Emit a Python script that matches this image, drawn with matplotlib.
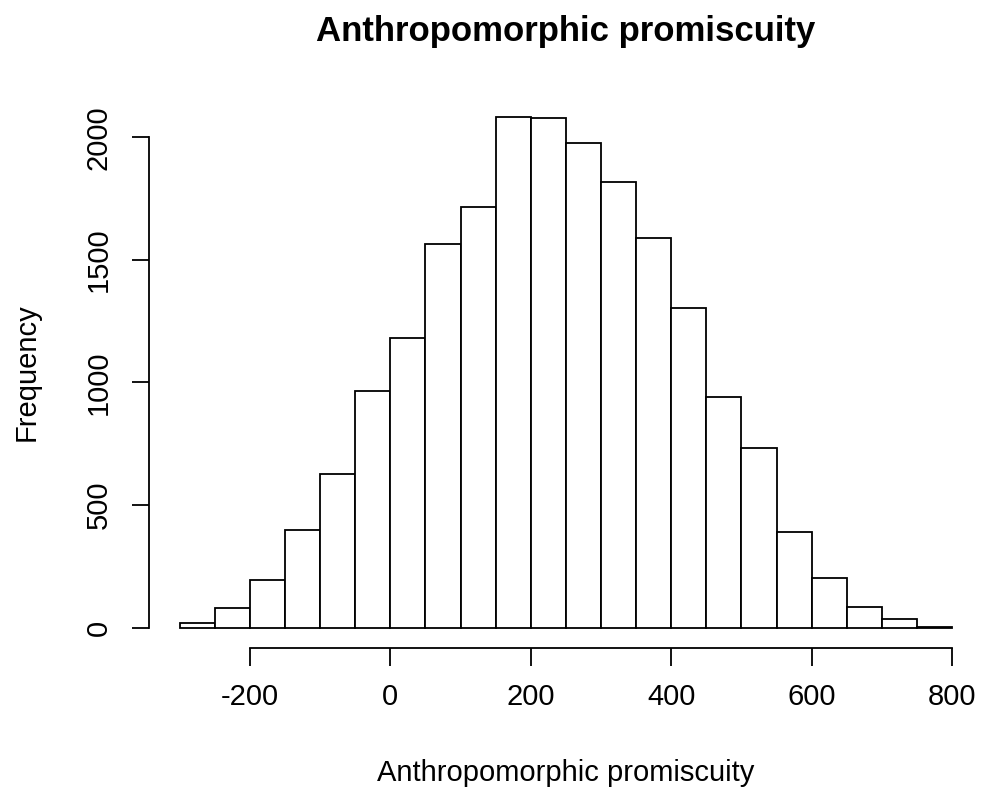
import numpy as np
import matplotlib
matplotlib.use("Agg")
import matplotlib.pyplot as plt

plt.rcParams["font.family"] = ["Liberation Sans", "DejaVu Sans"]
plt.rcParams["axes.unicode_minus"] = False

#---DATA---
bin_edges = np.arange(-300, 801, 50)
counts = [20, 81, 196, 399, 627, 965, 1181, 1564, 1715, 2081, 2077,
          1976, 1817, 1589, 1303, 941, 733, 391, 204, 86, 37, 3]
x_ticks = [-200, 0, 200, 400, 600, 800]
y_ticks = [0, 500, 1000, 1500, 2000]

#---PLOT---
fig = plt.figure(figsize=(9.92, 7.88), dpi=100)
ax = fig.add_axes([0.150, 0.1777, 0.841, 0.6992])

ax.bar(bin_edges[:-1], counts, width=50, align="edge",
       facecolor="white", edgecolor="black", linewidth=1.3)

ax.set_xlim(-344, 844)
ax.set_ylim(-83, 2164)

for side in ["top", "right"]:
    ax.spines[side].set_visible(False)
ax.spines["left"].set_bounds(0, 2000)
ax.spines["bottom"].set_bounds(-200, 800)
ax.spines["left"].set_linewidth(1.3)
ax.spines["bottom"].set_linewidth(1.3)

ax.set_xticks(x_ticks)
ax.set_yticks(y_ticks)
ax.tick_params(axis="x", length=13, width=1.3, labelsize=21, pad=12)
ax.tick_params(axis="y", length=12, width=1.3, labelsize=21, pad=14)
for lab in ax.get_yticklabels():
    lab.set_rotation(90)
    lab.set_va("center")

ax.set_xlabel("Anthropomorphic promiscuity", fontsize=21, labelpad=35)
ax.set_ylabel("Frequency", fontsize=21, labelpad=32)
ax.set_title("Anthropomorphic promiscuity", fontsize=25, fontweight="bold", pad=40)

fig.savefig("out.png", dpi=100)
